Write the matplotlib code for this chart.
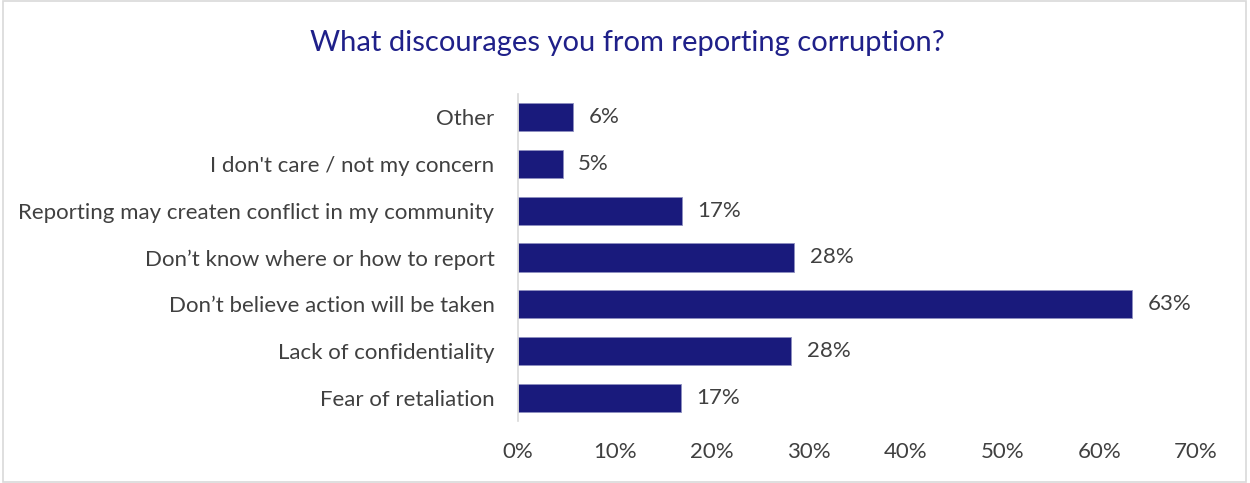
import matplotlib
matplotlib.use("Agg")
import matplotlib.pyplot as plt
from matplotlib.patches import Rectangle

categories = [
    "Fear of retaliation",
    "Lack of confidentiality",
    "Don\u2019t believe action will be taken",
    "Don\u2019t know where or how to report",
    "Reporting may createn conflict in my community",
    "I don't care / not my concern",
    "Other",
]
values = [16.8, 28.2, 63.4, 28.5, 16.9, 4.6, 5.7]
xticks = [0, 10, 20, 30, 40, 50, 60, 70]
title = "What discourages you from reporting corruption?"

BAR = "#191a7c"
TEXT = "#404040"
FONT = "Lato"
FS = 16

fig = plt.figure(figsize=(12.5, 4.83), dpi=100)
fig.patches.append(Rectangle((0.002, 0.003), 0.995, 0.994, transform=fig.transFigure,
                             fill=False, edgecolor="#d9d9d9", linewidth=1.2))
ax = fig.add_axes([0.4144, 0.1284, 0.5424, 0.677])

y = range(len(categories))
ax.barh(y, values, height=0.6, color=BAR, edgecolor="#8e8fc0", linewidth=0.6)
for yi, v in zip(y, values):
    ax.text(v + 1.6, yi, f"{v:.0f}%", va="center", ha="left",
            fontsize=FS, color=TEXT, family=FONT)

ax.set_xlim(0, 70)
ax.set_ylim(-0.5, len(categories) - 0.5)
ax.set_xticks(xticks)
ax.set_xticklabels([f"{t}%" for t in xticks], fontsize=FS, color=TEXT, family=FONT)
ax.set_yticks(list(y))
ax.set_yticklabels(categories, fontsize=FS, color=TEXT, family=FONT)
ax.tick_params(axis="both", length=0)
ax.tick_params(axis="x", pad=15)
ax.tick_params(axis="y", pad=17)
for s in ["top", "right", "bottom"]:
    ax.spines[s].set_visible(False)
ax.spines["left"].set_color("#d9d9d9")
ax.spines["left"].set_linewidth(1.2)

fig.text(0.502, 0.911, title, ha="center", va="center", fontsize=21,
         color="#1f2089", family=FONT)

fig.savefig("out.png", dpi=100)
